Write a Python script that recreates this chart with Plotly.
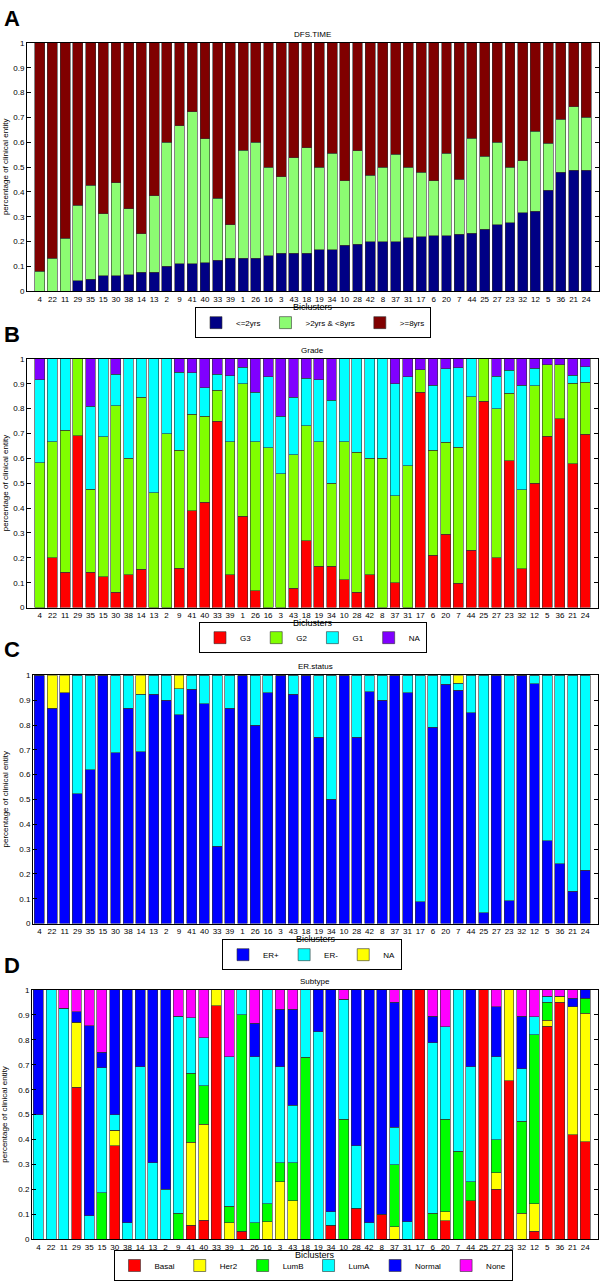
import numpy as np
import plotly.graph_objects as go

biclusters = ["4","22","11","29","35","15","30","38","14","13",
              "2","9","41","40","33","39","1","26","16","3",
              "43","18","19","34","10","28","42","8","37","31",
              "17","6","20","7","44","25","27","23","32","12",
              "5","36","21","24"]

# ---- Panel A: DFS.TIME (cumulative tops of each segment) ----
dfs_names = ["<=2yrs", ">2yrs & <8yrs", ">=8yrs"]
dfs_colors = ["#000085", "#8cfc72", "#800000"]
dfs_top_le2 = [0,0,0,0.043,0.048,0.063,0.063,0.067,0.077,0.077,
               0.1,0.111,0.111,0.115,0.125,0.133,0.133,0.133,0.143,0.154,
               0.154,0.154,0.167,0.167,0.186,0.189,0.2,0.2,0.2,0.215,
               0.219,0.223,0.223,0.229,0.233,0.25,0.267,0.275,0.316,0.323,
               0.407,0.479,0.487,0.487]
dfs_top_2to8 = [0.08,0.133,0.214,0.346,0.427,0.313,0.438,0.333,0.231,0.385,
                0.6,0.667,0.722,0.615,0.375,0.267,0.567,0.6,0.5,0.462,
                0.538,0.577,0.5,0.556,0.445,0.565,0.468,0.5,0.552,0.5,
                0.48,0.445,0.556,0.452,0.617,0.544,0.6,0.5,0.526,0.644,
                0.596,0.692,0.743,0.7]

# ---- Panel B: Grade ----
grade_names = ["G3", "G2", "G1", "NA"]
grade_colors = ["#ff0000", "#80ff00", "#00ffff", "#8000ff"]
grade_top_g3 = [0,0.2,0.143,0.692,0.143,0.125,0.0625,0.133,0.154,0,
                0,0.158,0.389,0.423,0.75,0.133,0.367,0.067,0,0,
                0.077,0.269,0.167,0.167,0.111,0.0625,0.133,0,0.1,0,
                0.867,0.21,0.295,0.097,0.231,0.83,0.2,0.59,0.157,0.5,
                0.69,0.76,0.579,0.697]
grade_top_g2 = [0.583,0.667,0.714,1,0.476,0.6875,0.8125,0.6,0.846,0.462,
                0.7,0.632,0.778,0.769,0.875,0.667,0.9,0.667,0.643,0.538,
                0.615,0.731,0.667,0.5,0.667,0.625,0.6,0.6,0.45,0.571,
                0.956,0.632,0.664,0.644,0.847,1,0.8,0.862,0.473,0.893,
                0.976,0.976,0.903,0.906]
grade_top_g1 = [0.917,1,1,1,0.81,1,0.9375,1,1,1,
                1,0.947,0.944,0.885,0.9375,0.933,0.967,0.867,0.929,0.769,
                0.846,0.923,0.917,0.833,1,1,1,1,0.9,0.929,
                0.956,0.895,0.961,0.965,1,1,0.93,0.954,0.894,0.963,
                0.976,0.976,0.934,0.968]

# ---- Panel C: ER.status ----
er_names = ["ER+", "ER-", "NA"]
er_colors = ["#0000ff", "#00ffff", "#ffff00"]
er_top_pos = [1,0.867,0.929,0.524,0.619,1,0.6875,0.867,0.692,0.923,
              0.9,0.842,0.944,0.885,0.3125,0.867,1,0.8,0.929,1,
              0.923,1,0.75,0.5,1,0.75,0.933,0.9,1,0.929,
              0.088,0.79,0.964,0.939,0.85,0.043,1,0.093,1,0.967,
              0.334,0.241,0.13,0.214]
er_top_neg = [1,0.867,0.929,1,1,1,1,1,0.923,1,
              1,0.947,1,1,1,1,1,1,1,1,
              1,1,1,1,1,1,1,1,1,1,
              1,1,1,0.969,1,1,1,1,1,1,
              1,1,1,1]

# ---- Panel D: Subtype ----
sub_names = ["Basal", "Her2", "LumB", "LumA", "Normal", "None"]
sub_colors = ["#ff0000", "#ffff00", "#00ff00", "#00ffff", "#0000ff", "#ff00ff"]
sub_top_basal = [0,0,0,0.609,0,0,0.375,0,0,0,
                 0,0,0.056,0.077,0.9375,0,0.033,0,0,0,
                 0,0,0,0.056,0,0.125,0,0.1,0,0,
                 1,0,0.074,0,0.154,1,0.2,0.636,0,0.033,
                 0.854,0.951,0.419,0.392]
sub_top_her2 = [0,0,0,0.87,0,0,0.4375,0,0,0,
                0,0,0.389,0.462,1,0.067,0.033,0,0.071,0.231,
                0.154,0,0,0.056,0,0.125,0,0.1,0.05,0,
                1,0,0.111,0,0.154,1,0.267,1,0.105,0.143,
                0.879,0.975,0.932,0.906]
sub_top_lumb = [0,0,0,0.87,0,0.1875,0.4375,0,0,0,
                0,0.105,0.667,0.615,1,0.133,0.9,0.067,0.143,0.308,
                0.308,0.731,0,0.056,0.481,0.125,0,0.1,0.3,0,
                1,0.105,0.481,0.354,0.231,1,0.4,1,0.474,0.821,
                0.951,0.975,0.932,0.967]
sub_top_luma = [0.5,1,0.926,0.87,0.095,0.6875,0.5,0.067,0.692,0.308,
                0.2,0.895,0.889,0.808,1,0.733,1,0.733,1,0.692,
                0.538,1,0.833,0.111,0.962,0.375,0.067,0.1,0.45,0.071,
                1,0.789,0.852,1,0.692,1,0.733,1,0.684,0.893,
                0.975,0.975,0.932,0.967]
sub_top_normal = [1,1,0.926,0.913,0.857,0.75,1,1,1,1,
                  1,0.895,0.889,0.808,1,0.733,1,0.867,1,0.923,
                  0.923,1,1,1,0.962,1,1,1,0.95,1,
                  1,0.895,0.852,1,1,1,0.933,1,0.895,0.893,
                  0.975,0.975,0.966,1]

W, H = 600, 1281
FONT = "Liberation Sans, Arial, sans-serif"

def px_x(x):
    return x / W

def px_y(y):
    return 1 - y / H

panels = [
    dict(letter="A", title="DFS.TIME", names=dfs_names, colors=dfs_colors,
         tops=[dfs_top_le2, dfs_top_2to8], top=39.3, bottom=290, left=27, right=599,
         xr=[-1, 44], letter_y=15, legend_top=306, legend_x=313),
    dict(letter="B", title="Grade", names=grade_names, colors=grade_colors,
         tops=[grade_top_g3, grade_top_g2, grade_top_g1], top=358.3, bottom=609.3, left=27, right=598,
         xr=[-1, 44], letter_y=334, legend_top=624, legend_x=313),
    dict(letter="C", title="ER.status", names=er_names, colors=er_colors,
         tops=[er_top_pos, er_top_neg], top=677.7, bottom=928.3, left=33, right=598,
         xr=[-0.5, 44], letter_y=652, legend_top=944, legend_x=312),
    dict(letter="D", title="Subtype", names=sub_names, colors=sub_colors,
         tops=[sub_top_basal, sub_top_her2, sub_top_lumb, sub_top_luma, sub_top_normal],
         top=995.3, bottom=1247, left=32, right=598,
         xr=[-0.5, 44], letter_y=971, legend_top=1258, legend_x=313),
]

fig = go.Figure()
annotations = []
layout = {}

for i, p in enumerate(panels):
    n = i + 1
    xa = "x" if n == 1 else f"x{n}"
    ya = "y" if n == 1 else f"y{n}"
    lg = "legend" if n == 1 else f"legend{n}"
    cum = np.vstack([np.zeros(len(biclusters))] + [np.array(t, dtype=float) for t in p["tops"]]
                    + [np.ones(len(biclusters))])
    segs = np.diff(cum, axis=0)
    for name, color, seg in zip(p["names"], p["colors"], segs):
        fig.add_trace(go.Bar(
            x=biclusters, y=seg, name=name, xaxis=xa, yaxis=ya, legend=lg,
            marker=dict(color=color, line=dict(color="#333333", width=0.6)),
            width=0.78, hoverinfo="x+y+name"))

    xkey = "xaxis" if n == 1 else f"xaxis{n}"
    ykey = "yaxis" if n == 1 else f"yaxis{n}"
    layout[xkey] = dict(
        domain=[px_x(p["left"]), px_x(p["right"])], anchor=ya, type="category",
        categoryorder="array", categoryarray=biclusters, range=p["xr"],
        showline=True, linecolor="black", linewidth=1, mirror=True,
        ticks="", tickfont=dict(size=8, color="black", family=FONT), showgrid=False,
        fixedrange=True)
    layout[ykey] = dict(
        domain=[px_y(p["bottom"]), px_y(p["top"])], anchor=xa, range=[0, 1],
        tickvals=[round(0.1 * k, 1) for k in range(11)],
        ticktext=["0"] + [f"0.{k}" for k in range(1, 10)] + ["1"],
        ticks="inside", ticklen=4, tickcolor="black", mirror="ticks",
        showline=True, linecolor="black", linewidth=1, showgrid=False, zeroline=False,
        tickfont=dict(size=8, color="black", family=FONT), fixedrange=True)
    layout[lg] = dict(
        orientation="h", x=px_x(p["legend_x"]), xanchor="center", y=px_y(p["legend_top"]), yanchor="top",
        bgcolor="white", bordercolor="black", borderwidth=1,
        font=dict(size=8, color="black", family=FONT), traceorder="normal",
        itemwidth=30, tracegroupgap=0)

    mid_y = (p["top"] + p["bottom"]) / 2
    mid_x = (p["left"] + p["right"]) / 2
    annotations += [
        dict(text=f"<b>{p['letter']}</b>", x=px_x(2), y=px_y(p["letter_y"]), xref="paper", yref="paper",
             xanchor="left", yanchor="middle", showarrow=False,
             font=dict(size=22, color="black", family=FONT)),
        dict(text=p["title"], x=px_x(mid_x), y=px_y(p["top"] - 9), xref="paper", yref="paper",
             xanchor="center", yanchor="middle", showarrow=False,
             font=dict(size=8, color="black", family=FONT)),
        dict(text="Biclusters", x=px_x(mid_x), y=px_y(p["bottom"] + 15.5), xref="paper", yref="paper",
             xanchor="center", yanchor="middle", showarrow=False,
             font=dict(size=9, color="black", family=FONT)),
        dict(text="percentage of clinical entity", x=px_x(5), y=px_y(mid_y), xref="paper", yref="paper",
             xanchor="center", yanchor="middle", textangle=-90, showarrow=False,
             font=dict(size=8, color="black", family=FONT)),
    ]

fig.update_layout(
    width=W, height=H, margin=dict(l=0, r=0, t=0, b=0),
    barmode="stack", bargap=0.22, plot_bgcolor="white", paper_bgcolor="white",
    font=dict(family=FONT, color="black"), annotations=annotations, **layout)

fig.write_html(
    "out.html",
    config={"displayModeBar": False},
    post_script="document.body.style.margin='0';document.body.style.padding='0';"
                "document.documentElement.style.overflow='hidden';")
